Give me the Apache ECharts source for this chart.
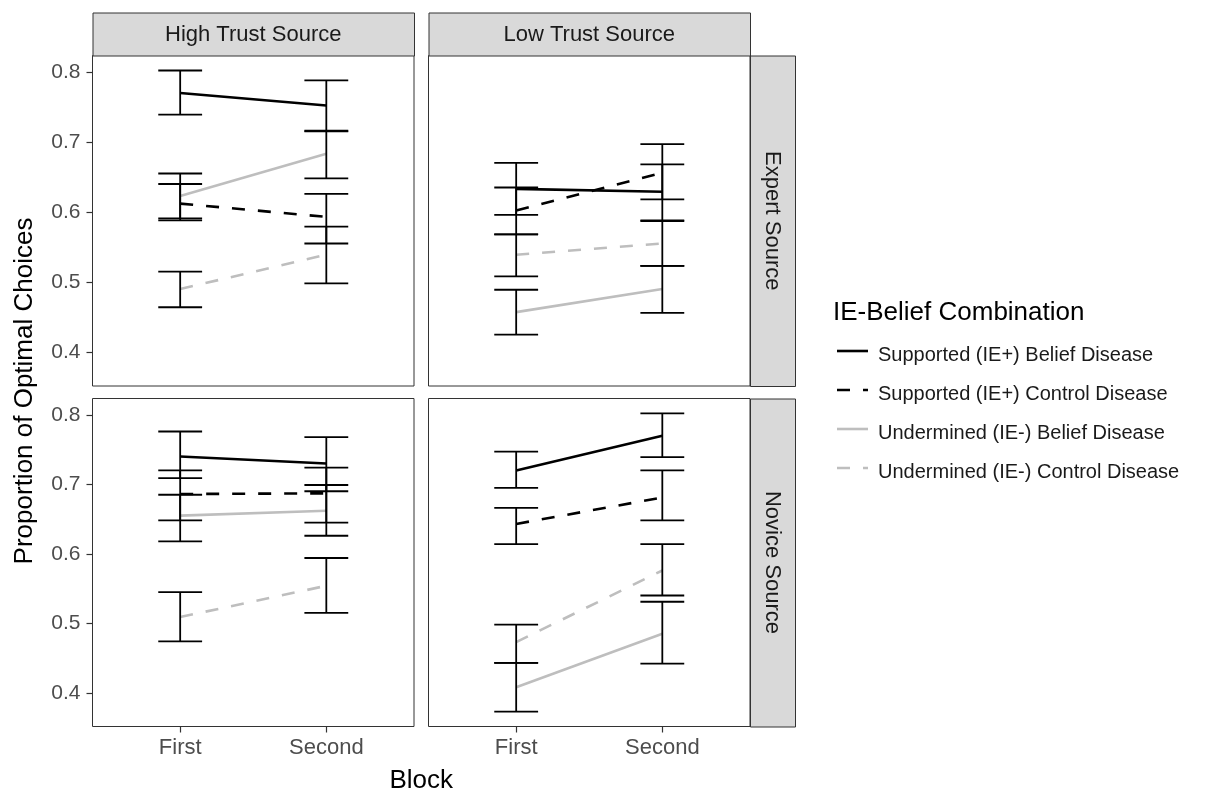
<!DOCTYPE html>
<html>
<head>
<meta charset="utf-8">
<title>Proportion of Optimal Choices by Block</title>
<script src="https://cdn.jsdelivr.net/npm/echarts@6/dist/echarts.min.js"></script>
<style>
  html, body { margin: 0; padding: 0; background: #ffffff; }
  #chart { width: 1225px; height: 797px; }
</style>
</head>
<body>
<div id="chart"></div>
<script>
// Categories and facet labels
const blocks = ['First', 'Second'];
const blockPos = [1, 2];
const trustLabels = ['High Trust Source', 'Low Trust Source'];
const expertiseLabels = ['Expert Source', 'Novice Source'];
const combos = [
  'Supported (IE+) Belief Disease',
  'Supported (IE+) Control Disease',
  'Undermined (IE-) Belief Disease',
  'Undermined (IE-) Control Disease'
];
const yTicks = [0.4, 0.5, 0.6, 0.7, 0.8];

// Proportions per combination (rows) and block (columns): mean, lower and upper limits
const expertHighMean = [[0.770, 0.752], [0.612, 0.593], [0.623, 0.683], [0.490, 0.539]];
const expertHighLo   = [[0.739, 0.716], [0.588, 0.555], [0.591, 0.648], [0.464, 0.498]];
const expertHighHi   = [[0.802, 0.788], [0.640, 0.626], [0.655, 0.715], [0.515, 0.579]];

const expertLowMean  = [[0.633, 0.629], [0.602, 0.656], [0.457, 0.490], [0.539, 0.555]];
const expertLowLo    = [[0.596, 0.588], [0.568, 0.618], [0.425, 0.456], [0.508, 0.523]];
const expertLowHi    = [[0.670, 0.668], [0.635, 0.697], [0.489, 0.523], [0.568, 0.587]];

const noviceHighMean = [[0.740, 0.730], [0.686, 0.687], [0.655, 0.662], [0.509, 0.554]];
const noviceHighLo   = [[0.709, 0.690], [0.648, 0.645], [0.618, 0.626], [0.474, 0.515]];
const noviceHighHi   = [[0.776, 0.768], [0.720, 0.724], [0.685, 0.699], [0.545, 0.594]];

const noviceLowMean  = [[0.720, 0.770], [0.643, 0.681], [0.408, 0.485], [0.473, 0.576]];
const noviceLowLo    = [[0.695, 0.739], [0.614, 0.648], [0.373, 0.442], [0.443, 0.540]];
const noviceLowHi    = [[0.747, 0.802], [0.666, 0.720], [0.443, 0.531], [0.498, 0.614]];

// Facet panels: row = source expertise, col = trust level
const panels = [
  { row: 0, col: 0, mean: expertHighMean, lo: expertHighLo, hi: expertHighHi },
  { row: 0, col: 1, mean: expertLowMean,  lo: expertLowLo,  hi: expertLowHi },
  { row: 1, col: 0, mean: noviceHighMean, lo: noviceHighLo, hi: noviceHighHi },
  { row: 1, col: 1, mean: noviceLowMean,  lo: noviceLowLo,  hi: noviceLowHi }
];

// Line appearance for each combination
const comboColor = ['#000000', '#000000', '#bebebe', '#bebebe'];
const comboDash  = ['solid', [13, 13], 'solid', [13, 13]];

const FONT = "'Liberation Sans', Arial, sans-serif";

// Shared y range with 5% padding around all interval limits
const allVals = panels.flatMap(p => p.lo.flat().concat(p.hi.flat()));
const vMin = Math.min(...allVals), vMax = Math.max(...allVals);
const pad = (vMax - vMin) * 0.05;
const yMin = vMin - pad, yMax = vMax + pad;

// Panel geometry
const colLeft = [92.5, 428.5];
const colWidth = 321.5;
const rowTop = [55.5, 398.5];
const rowHeight = [330.5, 328];
const stripTop = 12.5, stripH = 43;
const stripRight = 750, stripW = 45;

const grids = [], xAxes = [], yAxes = [], series = [], graphics = [];

panels.forEach((p, i) => {
  grids.push({
    left: colLeft[p.col], top: rowTop[p.row], width: colWidth, height: rowHeight[p.row],
    show: true, borderColor: '#333333', borderWidth: 1, backgroundColor: '#ffffff',
    containLabel: false, outerBoundsMode: 'none'
  });
  const bottomRow = p.row === 1, leftCol = p.col === 0;
  xAxes.push({
    type: 'value', gridIndex: i, min: 0.4, max: 2.6,
    axisLine: { show: false }, splitLine: { show: false },
    axisTick: { show: bottomRow, customValues: blockPos, length: 6, lineStyle: { color: '#333333', width: 1.2 } },
    axisLabel: {
      show: bottomRow, customValues: blockPos, margin: 10,
      formatter: v => blocks[blockPos.indexOf(v)],
      color: '#4d4d4d', fontSize: 22, fontFamily: FONT
    }
  });
  yAxes.push({
    type: 'value', gridIndex: i, min: yMin, max: yMax,
    axisLine: { show: false }, splitLine: { show: false },
    axisTick: { show: leftCol, customValues: yTicks, length: 6, lineStyle: { color: '#333333', width: 1.2 } },
    axisLabel: {
      show: leftCol, customValues: yTicks, margin: 12,
      formatter: v => v.toFixed(1),
      color: '#4d4d4d', fontSize: 21, fontFamily: FONT
    }
  });

  combos.forEach((name, c) => {
    series.push({
      type: 'line', name: name, xAxisIndex: i, yAxisIndex: i,
      data: blockPos.map((x, b) => [x, p.mean[c][b]]),
      showSymbol: false, symbol: 'none', silent: true, z: 2,
      lineStyle: { color: comboColor[c], width: 2.6, type: comboDash[c] }
    });
    series.push({
      type: 'custom', name: name + ' interval', xAxisIndex: i, yAxisIndex: i,
      data: blockPos.map((x, b) => [x, p.lo[c][b], p.hi[c][b]]),
      encode: { x: 0, y: [1, 2] }, silent: true, z: 3,
      renderItem: (params, api) => {
        const x = api.value(0);
        const pLo = api.coord([x, api.value(1)]);
        const pHi = api.coord([x, api.value(2)]);
        const half = api.size([0.15, 0])[0];
        const st = { stroke: '#000000', lineWidth: 1.8 };
        return {
          type: 'group',
          children: [
            { type: 'line', shape: { x1: pLo[0], y1: pLo[1], x2: pHi[0], y2: pHi[1] }, style: st },
            { type: 'line', shape: { x1: pLo[0] - half, y1: pLo[1], x2: pLo[0] + half, y2: pLo[1] }, style: st },
            { type: 'line', shape: { x1: pHi[0] - half, y1: pHi[1], x2: pHi[0] + half, y2: pHi[1] }, style: st }
          ]
        };
      }
    });
  });
});

// Facet strips along the top (trust level)
trustLabels.forEach((label, c) => {
  graphics.push({
    type: 'rect', left: colLeft[c], top: stripTop, z: 10,
    shape: { width: colWidth, height: stripH },
    style: { fill: '#d9d9d9', stroke: '#333333', lineWidth: 1 }
  });
  graphics.push({
    type: 'text', x: colLeft[c] + colWidth / 2, y: stripTop + stripH / 2 + 1, z: 11,
    style: { text: label, fill: '#1a1a1a', font: '22px ' + FONT, textAlign: 'center', textVerticalAlign: 'middle' }
  });
});

// Facet strips on the right (source expertise)
expertiseLabels.forEach((label, r) => {
  graphics.push({
    type: 'rect', left: stripRight, top: rowTop[r], z: 10,
    shape: { width: stripW, height: rowHeight[r] },
    style: { fill: '#d9d9d9', stroke: '#333333', lineWidth: 1 }
  });
  graphics.push({
    type: 'text', x: stripRight + stripW / 2, y: rowTop[r] + rowHeight[r] / 2, rotation: -Math.PI / 2, z: 11,
    style: { text: label, fill: '#1a1a1a', font: '22px ' + FONT, textAlign: 'center', textVerticalAlign: 'middle' }
  });
});

// Axis titles
graphics.push({
  type: 'text', x: (colLeft[0] + stripRight) / 2, y: 781, z: 11,
  style: { text: 'Block', fill: '#000000', font: '26px ' + FONT, textAlign: 'center', textVerticalAlign: 'middle' }
});
graphics.push({
  type: 'text', x: 25, y: (rowTop[0] + rowTop[1] + rowHeight[1]) / 2, rotation: Math.PI / 2, z: 11,
  style: { text: 'Proportion of Optimal Choices', fill: '#000000', font: '26px ' + FONT, textAlign: 'center', textVerticalAlign: 'middle' }
});

// Legend
const legendX = 833, legendTitleY = 313, legendFirstY = 355, legendStep = 39;
graphics.push({
  type: 'text', x: legendX, y: legendTitleY, z: 11,
  style: { text: 'IE-Belief Combination', fill: '#000000', font: '26px ' + FONT, textAlign: 'left', textVerticalAlign: 'middle' }
});
combos.forEach((name, c) => {
  const y = legendFirstY + c * legendStep;
  graphics.push({
    type: 'line', z: 11,
    shape: { x1: legendX + 4, y1: y - 4, x2: legendX + 35, y2: y - 4 },
    style: { stroke: comboColor[c], lineWidth: 2.6, lineDash: comboDash[c] === 'solid' ? null : comboDash[c] }
  });
  graphics.push({
    type: 'text', x: legendX + 45, y: y, z: 11,
    style: { text: name, fill: '#1a1a1a', font: '20px ' + FONT, textAlign: 'left', textVerticalAlign: 'middle' }
  });
});

const chart = echarts.init(document.getElementById('chart'), null, { renderer: 'canvas' });
chart.setOption({
  backgroundColor: '#ffffff',
  animation: false,
  grid: grids,
  xAxis: xAxes,
  yAxis: yAxes,
  series: series,
  graphic: graphics
});
</script>
</body>
</html>
